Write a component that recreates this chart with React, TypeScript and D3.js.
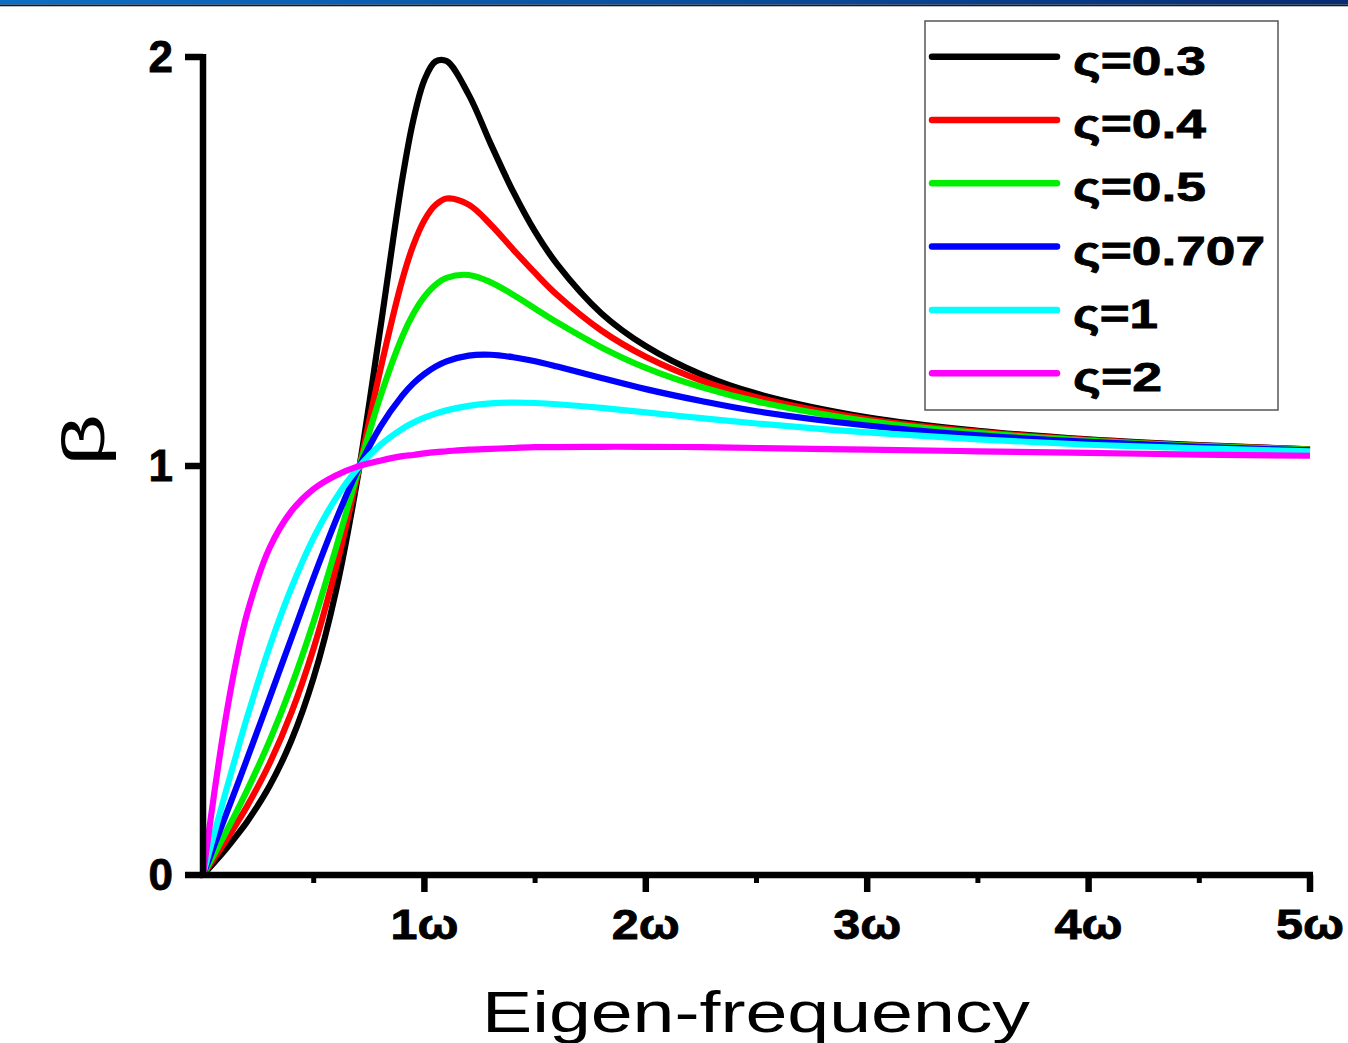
import React from "react";
import * as d3 from "d3";

const freq = [0, 0.05, 0.1, 0.15, 0.2, 0.3, 0.4, 0.5, 0.6, 0.7, 0.8, 0.9, 0.95, 1.0, 1.05, 1.1, 1.2, 1.3, 1.4, 1.5, 1.6, 1.8, 2.0, 2.25, 2.5, 3.0, 3.5, 4.0, 4.5, 5.0];

const beta03 = [0, 0.030, 0.061, 0.095, 0.131, 0.217, 0.330, 0.483, 0.693, 0.977, 1.333, 1.701, 1.846, 1.944, 1.989, 1.990, 1.908, 1.787, 1.672, 1.573, 1.493, 1.373, 1.293, 1.224, 1.177, 1.119, 1.086, 1.065, 1.051, 1.041];
const beta04 = [0, 0.040, 0.081, 0.124, 0.169, 0.272, 0.398, 0.555, 0.750, 0.982, 1.233, 1.455, 1.540, 1.601, 1.638, 1.654, 1.639, 1.590, 1.530, 1.472, 1.418, 1.331, 1.267, 1.209, 1.168, 1.115, 1.084, 1.064, 1.050, 1.041];
const beta05 = [0, 0.050, 0.101, 0.153, 0.208, 0.327, 0.463, 0.620, 0.798, 0.987, 1.168, 1.316, 1.372, 1.414, 1.443, 1.460, 1.467, 1.449, 1.419, 1.385, 1.351, 1.290, 1.240, 1.193, 1.158, 1.110, 1.081, 1.062, 1.049, 1.040];
const beta0707 = [0, 0.071, 0.142, 0.213, 0.285, 0.432, 0.580, 0.728, 0.867, 0.992, 1.095, 1.172, 1.202, 1.225, 1.243, 1.256, 1.270, 1.272, 1.266, 1.256, 1.243, 1.215, 1.188, 1.159, 1.134, 1.099, 1.075, 1.059, 1.047, 1.038];
const beta1 = [0, 0.100, 0.198, 0.294, 0.387, 0.557, 0.703, 0.825, 0.921, 0.995, 1.051, 1.091, 1.106, 1.118, 1.128, 1.136, 1.147, 1.153, 1.155, 1.154, 1.151, 1.142, 1.131, 1.117, 1.104, 1.082, 1.065, 1.052, 1.043, 1.036];
const beta2 = [0, 0.197, 0.375, 0.523, 0.641, 0.799, 0.890, 0.944, 0.977, 0.999, 1.013, 1.024, 1.027, 1.031, 1.034, 1.036, 1.040, 1.042, 1.044, 1.046, 1.046, 1.047, 1.047, 1.046, 1.044, 1.040, 1.036, 1.032, 1.028, 1.025];

const seriesLabels = ["ς=0.3", "ς=0.4", "ς=0.5", "ς=0.707", "ς=1", "ς=2"];
const seriesColors = ["#000000", "#ff0000", "#00ee00", "#0000ff", "#00ffff", "#ff00ff"];
const seriesValues = [beta03, beta04, beta05, beta0707, beta1, beta2];

const xTickValues = [1, 2, 3, 4, 5];
const xTickLabels = ["1ω", "2ω", "3ω", "4ω", "5ω"];
const xMinorTicks = [0.5, 1.5, 2.5, 3.5, 4.5];
const yTickValues = [0, 1, 2];
const yTickLabels = ["0", "1", "2"];

const FONT = "'Liberation Sans', Arial, Helvetica, sans-serif";

export default function App() {
  const W = 1348, H = 1043;
  const x = d3.scaleLinear().domain([0, 5]).range([203, 1310]);
  const y = d3.scaleLinear().domain([0, 2]).range([875, 57]);
  const line = d3
    .line<number>()
    .x((_, i) => x(freq[i]))
    .y((d) => y(d))
    .curve(d3.curveCatmullRom.alpha(0.5));

  const legendX1 = 932, legendX2 = 1057;
  const legendY0 = 56.7, legendDy = 63.3;
  const legendWidths = [133, 133, 133, 192, 85, 89];

  return (
    <svg
      width={W}
      height={H}
      style={{ position: "absolute", left: 0, top: 0, background: "#fff" }}
    >
      <defs>
        <linearGradient id="hdr" x1="0" x2="1" y1="0" y2="0">
          <stop offset="0" stopColor="#0b6fc6" />
          <stop offset="0.5" stopColor="#0a4f9e" />
          <stop offset="1" stopColor="#082b72" />
        </linearGradient>
      </defs>
      <rect x={0} y={0} width={W} height={H} fill="#fff" />
      <rect x={0} y={0} width={W} height={4.5} fill="url(#hdr)" />
      <rect x={0} y={4.5} width={W} height={1.5} fill="#0e1a2e" />
      <rect x={0} y={6} width={W} height={1} fill="#b8bcc4" />

      {/* curves */}
      <g fill="none" strokeWidth={6.2} strokeLinejoin="round">
        {seriesValues.map((vals, i) => (
          <path key={i} d={line(vals) || ""} stroke={seriesColors[i]} />
        ))}
      </g>

      {/* axes */}
      <g stroke="#000" strokeWidth={6.5} fill="none">
        <line x1={x(0)} x2={x(0)} y1={y(2) - 3} y2={y(0) + 3} />
        <line x1={x(0) - 3} x2={x(5) + 3} y1={y(0)} y2={y(0)} />
        {xTickValues.map((t) => (
          <line key={"xt" + t} x1={x(t)} x2={x(t)} y1={y(0)} y2={y(0) + 17} />
        ))}
        {xMinorTicks.map((t) => (
          <line key={"xm" + t} x1={x(t)} x2={x(t)} y1={y(0)} y2={y(0) + 8} strokeWidth={5} />
        ))}
        {yTickValues.map((t) => (
          <line key={"yt" + t} x1={x(0) - 18} x2={x(0)} y1={y(t)} y2={y(t)} />
        ))}
      </g>

      {/* tick labels */}
      <g fontFamily={FONT} fontWeight="bold" fontSize={43} fill="#000" stroke="#000" strokeWidth={0.8}>
        {xTickValues.map((t, i) => (
          <text
            key={"xl" + t}
            x={x(t)}
            y={939}
            textAnchor="middle"
            textLength={68}
            lengthAdjust="spacingAndGlyphs"
          >
            {xTickLabels[i]}
          </text>
        ))}
        {yTickValues.map((t, i) => (
          <text key={"yl" + t} x={173} y={y(t) + 15} textAnchor="end" fontSize={44}>
            {yTickLabels[i]}
          </text>
        ))}
      </g>

      {/* axis titles */}
      <text
        x={0}
        y={0}
        transform={`translate(104, 440) rotate(-90)`}
        textAnchor="middle"
        fontFamily={FONT}
        fontSize={60}
        textLength={52}
        lengthAdjust="spacingAndGlyphs"
      >
        β
      </text>
      <text
        x={756}
        y={1032}
        textAnchor="middle"
        fontFamily={FONT}
        fontSize={57}
        textLength={548}
        lengthAdjust="spacingAndGlyphs"
      >
        Eigen-frequency
      </text>

      {/* legend */}
      <rect x={925} y={21} width={353} height={389} fill="#fff" stroke="#555" strokeWidth={1.5} />
      {seriesLabels.map((lab, i) => {
        const ly = legendY0 + i * legendDy;
        return (
          <g key={"lg" + i}>
            <line
              x1={legendX1}
              x2={legendX2}
              y1={ly}
              y2={ly}
              stroke={seriesColors[i]}
              strokeWidth={6.5}
              strokeLinecap="round"
            />
            <text
              x={1073}
              y={ly + 18}
              fontFamily={FONT}
              fontWeight="bold"
              fontSize={40}
              stroke="#000"
              strokeWidth={0.8}
              textLength={legendWidths[i]}
              lengthAdjust="spacingAndGlyphs"
            >
              {lab}
            </text>
          </g>
        );
      })}
    </svg>
  );
}
